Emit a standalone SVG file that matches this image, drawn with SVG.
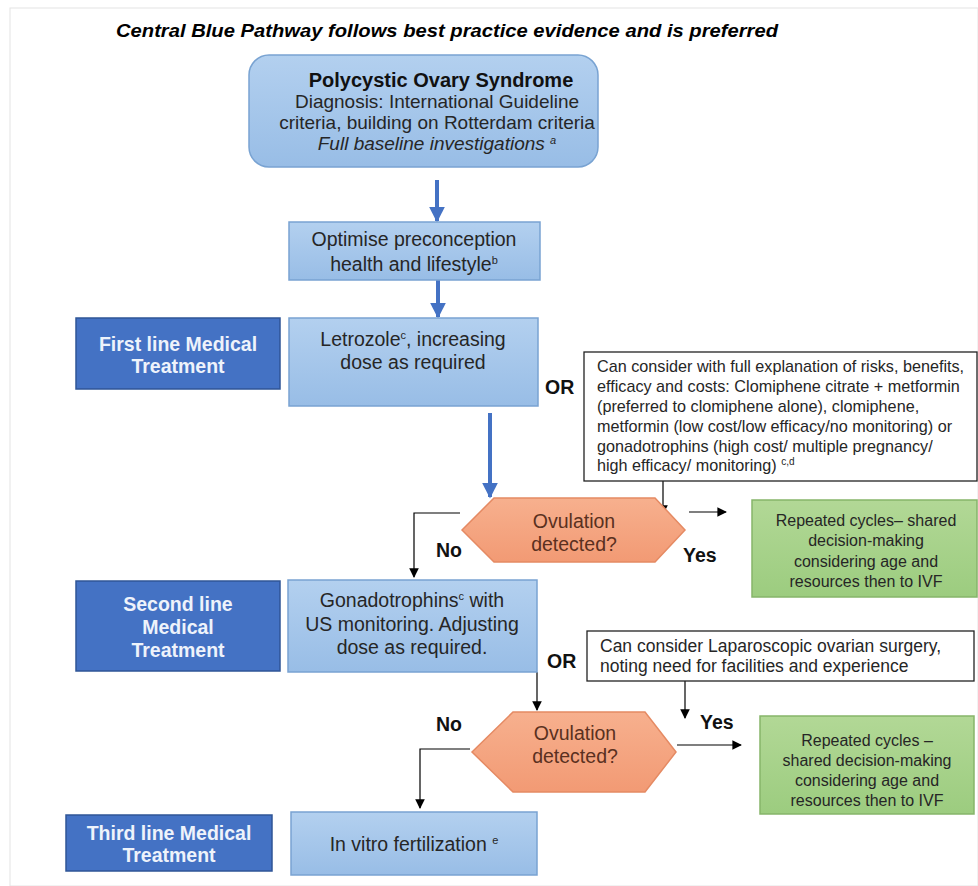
<svg xmlns="http://www.w3.org/2000/svg" width="978" height="886" viewBox="0 0 978 886">
<defs>
<linearGradient id="lb" x1="0" y1="0" x2="0" y2="1"><stop offset="0" stop-color="#b3d0ef"/><stop offset="1" stop-color="#98bde6"/></linearGradient>
<linearGradient id="gr" x1="0" y1="0" x2="0" y2="1"><stop offset="0" stop-color="#b2d896"/><stop offset="1" stop-color="#9ccc7f"/></linearGradient>
<linearGradient id="or" x1="0" y1="0" x2="0" y2="1"><stop offset="0" stop-color="#f7b08e"/><stop offset="1" stop-color="#f29a74"/></linearGradient>
<marker id="ab" viewBox="0 0 10 10" refX="9" refY="5" markerWidth="4" markerHeight="4" orient="auto" markerUnits="strokeWidth"><path d="M0,0 L10,5 L0,10 z" fill="#4472c4"/></marker>
<marker id="ak" viewBox="0 0 10 10" refX="9" refY="5" markerWidth="8" markerHeight="8" orient="auto" markerUnits="strokeWidth"><path d="M0,0 L10,5 L0,10 z" fill="#000"/></marker>
</defs>
<style>
text{font-family:"Liberation Sans",Arial,sans-serif;}
.lb{fill:url(#lb);stroke:#79a3d2;stroke-width:1.5;}
.db{fill:#4472c4;stroke:#2f5597;stroke-width:1.5;}
.gn{fill:url(#gr);stroke:#86b56a;stroke-width:1.5;}
.hx{fill:url(#or);stroke:#e58a63;stroke-width:1.5;}
.nt{fill:#fff;stroke:#222;stroke-width:1.3;}
.t{font-size:19.5px;fill:#262626;text-anchor:middle;}
.pc{font-size:19px;fill:#262626;text-anchor:middle;}
.w{font-size:19.5px;fill:#eef3fb;font-weight:bold;text-anchor:middle;}
.n{font-size:16.2px;fill:#262626;}
.n2{font-size:17.5px;fill:#262626;}
.g{font-size:16px;fill:#262626;text-anchor:middle;}
.h{font-size:19.5px;fill:#5a3020;text-anchor:middle;}
.b{font-size:19.5px;font-weight:bold;fill:#111;}
.sup{font-size:11px;}
.ba{stroke:#4472c4;stroke-width:4;fill:none;}
.ka{stroke:#000;stroke-width:1.2;fill:none;}
</style>
<rect x="10" y="8" width="968" height="878" fill="#fff" stroke="#e4e4e4" stroke-width="1"/>
<text x="447" y="37" font-size="19" font-weight="bold" font-style="italic" fill="#000" text-anchor="middle" textLength="662" lengthAdjust="spacingAndGlyphs">Central Blue Pathway follows best practice evidence and is preferred</text>

<g id="connectors">
<line class="ba" x1="437" y1="180" x2="437" y2="221" marker-end="url(#ab)"/>
<line class="ba" x1="438" y1="280" x2="438" y2="317" marker-end="url(#ab)"/>
<line class="ba" x1="490" y1="413" x2="490" y2="497" marker-end="url(#ab)"/>
<line class="ka" x1="663" y1="481" x2="663" y2="514" marker-end="url(#ak)"/>
<polyline class="ka" points="460,513 414,513 414,577" marker-end="url(#ak)"/>
<line class="ka" x1="689" y1="512" x2="726" y2="512" marker-end="url(#ak)"/>
<line class="ka" x1="537" y1="672" x2="537" y2="710" marker-end="url(#ak)"/>
<line class="ka" x1="685" y1="681" x2="685" y2="718" marker-end="url(#ak)"/>
<polyline class="ka" points="470,749 420,749 420,808" marker-end="url(#ak)"/>
<line class="ka" x1="677" y1="745" x2="741" y2="745" marker-end="url(#ak)"/>
</g>

<g id="pcos">
<rect class="lb" x="249" y="55" width="349" height="112" rx="20"/>
<text class="t" x="441" y="87" style="font-size:20px;font-weight:bold;fill:#111">Polycystic Ovary Syndrome</text>
<text class="pc" x="437" y="108">Diagnosis: International Guideline</text>
<text class="pc" x="437" y="129">criteria, building on Rotterdam criteria</text>
<text class="pc" x="437" y="150" font-style="italic">Full baseline investigations <tspan class="sup" dy="-6">a</tspan></text>
</g>

<g id="optimise">
<rect class="lb" x="289" y="222" width="251" height="58"/>
<text class="t" x="414" y="246">Optimise preconception</text>
<text class="t" x="414" y="271">health and lifestyle<tspan class="sup" dy="-7">b</tspan></text>
</g>

<g id="first-line-label">
<rect class="db" x="76" y="318" width="204" height="71"/>
<text class="w" x="178" y="351">First line Medical</text>
<text class="w" x="178" y="373">Treatment</text>
</g>

<g id="letrozole">
<rect class="lb" x="289" y="318" width="249" height="88"/>
<text class="t" x="413" y="346">Letrozole<tspan class="sup" dy="-7">c</tspan><tspan dy="7">, increasing</tspan></text>
<text class="t" x="413" y="369">dose as required</text>
</g>

<text id="or1" class="b" x="545" y="394">OR</text>

<g id="note1">
<rect class="nt" x="584" y="352" width="393" height="129"/>
<text class="n" x="597" y="372">Can consider with full explanation of risks, benefits,</text>
<text class="n" x="597" y="392">efficacy and costs: Clomiphene citrate + metformin</text>
<text class="n" x="597" y="412">(preferred to clomiphene alone), clomiphene,</text>
<text class="n" x="597" y="432">metformin (low cost/low efficacy/no monitoring) or</text>
<text class="n" x="597" y="452">gonadotrophins (high cost/ multiple pregnancy/</text>
<text class="n" x="597" y="471">high efficacy/ monitoring) <tspan style="font-size:10px" dy="-6">c,d</tspan></text>
</g>

<g id="ovulation1">
<polygon class="hx" points="462,530 494,498 655,498 685,530 655,562 494,562"/>
<text class="h" x="574" y="528">Ovulation</text>
<text class="h" x="574" y="551">detected?</text>
</g>
<text class="b" x="436" y="557">No</text>
<text class="b" x="683" y="562">Yes</text>

<g id="repeat1">
<rect class="gn" x="752" y="500" width="225" height="97"/>
<text class="g" x="866" y="526">Repeated cycles– shared</text>
<text class="g" x="866" y="546">decision-making</text>
<text class="g" x="866" y="567">considering age and</text>
<text class="g" x="866" y="587">resources then to IVF</text>
</g>

<g id="second-line-label">
<rect class="db" x="76" y="581" width="204" height="90"/>
<text class="w" x="178" y="611">Second line</text>
<text class="w" x="178" y="634">Medical</text>
<text class="w" x="178" y="657">Treatment</text>
</g>

<g id="gonadotrophins">
<rect class="lb" x="288" y="580" width="249" height="92"/>
<text class="t" x="412" y="607">Gonadotrophins<tspan class="sup" dy="-7">c</tspan><tspan dy="7"> with</tspan></text>
<text class="t" x="412" y="631">US monitoring. Adjusting</text>
<text class="t" x="412" y="654">dose as required.</text>
</g>

<text id="or2" class="b" x="547" y="668">OR</text>

<g id="note2">
<rect class="nt" x="587" y="631" width="387" height="50"/>
<text class="n2" x="600" y="652">Can consider Laparoscopic ovarian surgery,</text>
<text class="n2" x="600" y="672">noting need for facilities and experience</text>
</g>

<g id="ovulation2">
<polygon class="hx" points="472,752 513,712 645,712 676,752 645,792 513,792"/>
<text class="h" x="575" y="740">Ovulation</text>
<text class="h" x="575" y="763">detected?</text>
</g>
<text class="b" x="436" y="731">No</text>
<text class="b" x="700" y="729">Yes</text>

<g id="repeat2">
<rect class="gn" x="760" y="716" width="214" height="98"/>
<text class="g" x="867" y="746">Repeated cycles –</text>
<text class="g" x="867" y="766">shared decision-making</text>
<text class="g" x="867" y="786">considering age and</text>
<text class="g" x="867" y="806">resources then to IVF</text>
</g>

<g id="third-line-label">
<rect class="db" x="66" y="815" width="206" height="56"/>
<text class="w" x="169" y="840">Third line Medical</text>
<text class="w" x="169" y="862">Treatment</text>
</g>

<g id="ivf">
<rect class="lb" x="291" y="812" width="246" height="63"/>
<text class="t" x="414" y="851">In vitro fertilization <tspan class="sup" dy="-7">e</tspan></text>
</g>
</svg>
